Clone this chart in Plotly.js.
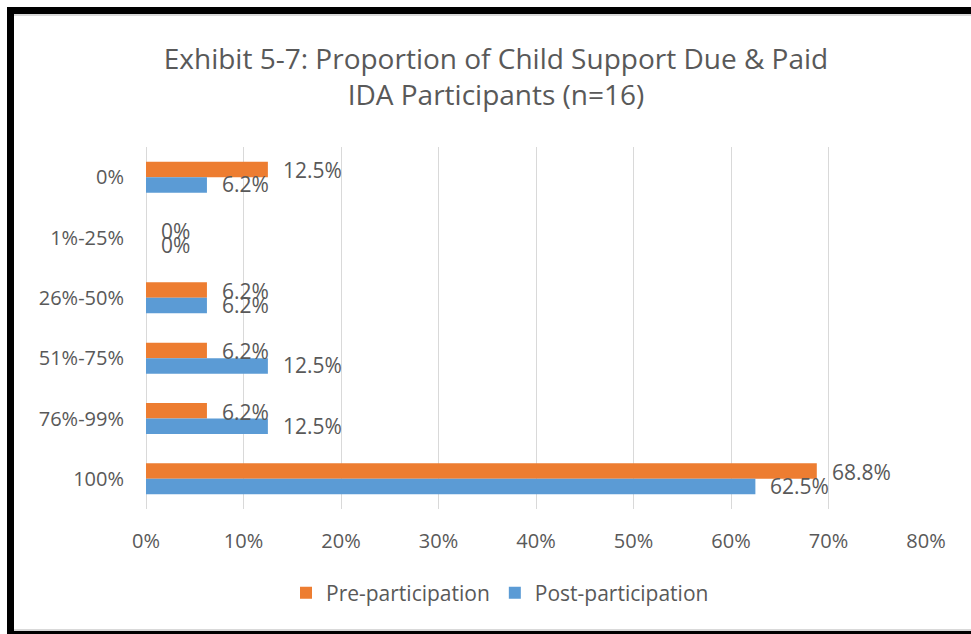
<!DOCTYPE html>
<html>
<head>
<meta charset="utf-8">
<script src="https://cdn.plot.ly/plotly-3.0.1.min.js"></script>
<style>
  html, body { margin: 0; padding: 0; background: #ffffff; }
  #wrap { position: relative; width: 971px; height: 634px; overflow: hidden; }
  #chart { position: absolute; left: 0; top: 0; width: 971px; height: 634px; }
  .frame { position: absolute; background: #000; }
  .shade { position: absolute; background: #d9d9d9; }
</style>
</head>
<body>
<div id="wrap">
  <div id="chart"></div>
  <div class="frame" style="left:7px; top:7px; width:964px; height:7px;"></div>
  <div class="frame" style="left:7px; top:7px; width:7px; height:627px;"></div>
  <div class="shade" style="left:14px; top:14px; width:957px; height:2px;"></div>
  <div class="shade" style="left:14px; top:629px; width:957px; height:2px;"></div>
  <div class="frame" style="left:7px; top:631px; width:964px; height:3px;"></div>
</div>
<script>
// Data
const categories = ["0%", "1%-25%", "26%-50%", "51%-75%", "76%-99%", "100%"];
const preValues  = [0.125, 0, 0.0625, 0.0625, 0.0625, 0.688];
const postValues = [0.0625, 0, 0.0625, 0.125, 0.125, 0.625];
const preLabels  = ["12.5%", "0%", "6.2%", "6.2%", "6.2%", "68.8%"];
const postLabels = ["6.2%", "0%", "6.2%", "12.5%", "12.5%", "62.5%"];
const xTickVals  = [0, 0.1, 0.2, 0.3, 0.4, 0.5, 0.6, 0.7, 0.8];
const xTickText  = ["0%", "10%", "20%", "30%", "40%", "50%", "60%", "70%", "80%"];

const FONT = "'Open Sans', 'Noto Sans', sans-serif";
const GRAY = "#595959";

const traces = [
  { type: "bar", orientation: "h", name: "Pre-participation",
    y: categories, x: preValues, marker: { color: "#ED7D31" }, hoverinfo: "x" },
  { type: "bar", orientation: "h", name: "Post-participation",
    y: categories, x: postValues, marker: { color: "#5B9BD5" }, hoverinfo: "x" }
];

const annotations = [];
categories.forEach((c, i) => {
  annotations.push({ x: preValues[i], y: c, text: preLabels[i], showarrow: false,
    xanchor: "left", yanchor: "middle", xshift: 13, yshift: 7,
    font: { family: FONT, size: 21, color: GRAY } });
  annotations.push({ x: postValues[i], y: c, text: postLabels[i], showarrow: false,
    xanchor: "left", yanchor: "middle", xshift: 13, yshift: -7,
    font: { family: FONT, size: 21, color: GRAY } });
});

const layout = {
  width: 971, height: 634,
  paper_bgcolor: "rgba(0,0,0,0)", plot_bgcolor: "rgba(0,0,0,0)",
  margin: { l: 146, r: 45, t: 147, b: 125 },
  font: { family: FONT, color: GRAY, size: 19 },
  title: { text: "Exhibit 5-7: Proportion of Child Support Due & Paid<br>IDA Participants (n=16)",
    font: { family: FONT, size: 28, color: GRAY },
    x: 496 / 971, xref: "container", xanchor: "center",
    y: 1 - 69 / 634, yref: "container", yanchor: "middle" },
  barmode: "group", bargap: 0.487, bargroupgap: 0,
  xaxis: { range: [0, 0.8], tickvals: xTickVals, ticktext: xTickText,
    showgrid: true, gridcolor: "#d9d9d9", gridwidth: 1,
    zeroline: true, zerolinecolor: "#d9d9d9", zerolinewidth: 1,
    showline: false, ticks: "", ticklabelstandoff: 18,
    tickfont: { family: FONT, size: 20, color: GRAY }, fixedrange: true },
  yaxis: { type: "category", categoryorder: "array", categoryarray: categories,
    autorange: "reversed", showgrid: false, zeroline: false, showline: false,
    ticks: "", ticklabelstandoff: 21,
    tickfont: { family: FONT, size: 20, color: GRAY }, fixedrange: true },
  legend: { orientation: "h", x: 500 / 971, xref: "container", xanchor: "center",
    y: 1 - 593 / 634, yref: "container", yanchor: "middle",
    font: { family: FONT, size: 21, color: GRAY }, traceorder: "normal" },
  annotations: annotations,
  showlegend: true
};

Plotly.newPlot("chart", traces, layout, { displayModeBar: false, staticPlot: true });
</script>
</body>
</html>
